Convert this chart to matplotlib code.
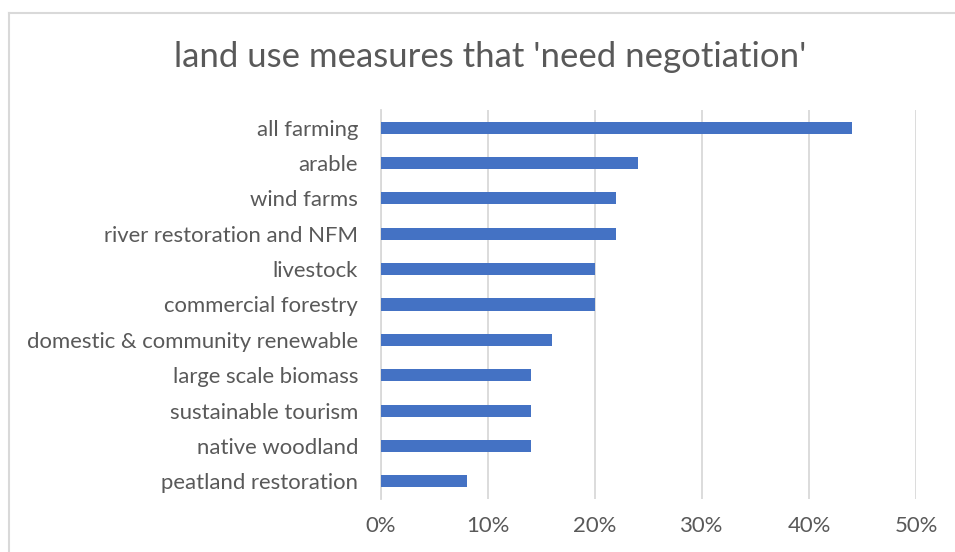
import matplotlib
matplotlib.use("Agg")
import matplotlib.pyplot as plt
from matplotlib.lines import Line2D
from matplotlib.ticker import FuncFormatter

categories = [
    "all farming",
    "arable",
    "wind farms",
    "river restoration and NFM",
    "livestock",
    "commercial forestry",
    "domestic & community renewable",
    "large scale biomass",
    "sustainable tourism",
    "native woodland",
    "peatland restoration",
]
shares = [0.44, 0.24, 0.22, 0.22, 0.20, 0.20, 0.16, 0.14, 0.14, 0.14, 0.08]
x_ticks = [0.0, 0.1, 0.2, 0.3, 0.4, 0.5]
title = "land use measures that 'need negotiation'"

text_color = "#595959"
grid_color = "#d9d9d9"
bar_color = "#4472C4"
font = "Lato"

fig = plt.figure(figsize=(9.55, 5.52), dpi=100)
fig.patch.set_facecolor("white")
ax = fig.add_axes([381 / 955, 1 - 499 / 552, (916 - 381) / 955, (499 - 110) / 552])

y = list(range(len(categories)))
ax.barh(y, shares, height=0.34, color=bar_color, zorder=3)
ax.set_ylim(len(categories) - 0.5, -0.5)
ax.set_xlim(0, 0.5)
ax.set_yticks(y)
ax.set_yticklabels(categories, fontsize=15.9, color=text_color, family=font)
ax.set_xticks(x_ticks)
ax.xaxis.set_major_formatter(FuncFormatter(lambda v, _: f"{v * 100:.0f}%"))
for lab in ax.get_xticklabels():
    lab.set_fontsize(15.9)
    lab.set_color(text_color)
    lab.set_family(font)
ax.tick_params(axis="both", length=0)
ax.tick_params(axis="y", pad=16.5)
ax.tick_params(axis="x", pad=12.5)
ax.grid(axis="x", color=grid_color, linewidth=1.3, zorder=0)
for side in ("top", "right", "bottom"):
    ax.spines[side].set_visible(False)
ax.spines["left"].set_color(grid_color)
ax.spines["left"].set_linewidth(1.3)

fig.text(490 / 955, 1 - 57 / 552, title, ha="center", va="center",
         fontsize=25, color=text_color, family=font)

# chart area frame (top and left edges)
fig.add_artist(Line2D([8.5 / 955, 1.0], [1 - 12.5 / 552, 1 - 12.5 / 552],
                      transform=fig.transFigure, color=grid_color, linewidth=1.5))
fig.add_artist(Line2D([8.5 / 955, 8.5 / 955], [0.0, 1 - 12.5 / 552],
                      transform=fig.transFigure, color=grid_color, linewidth=1.5))

fig.savefig("out.png", dpi=100, facecolor="white")
